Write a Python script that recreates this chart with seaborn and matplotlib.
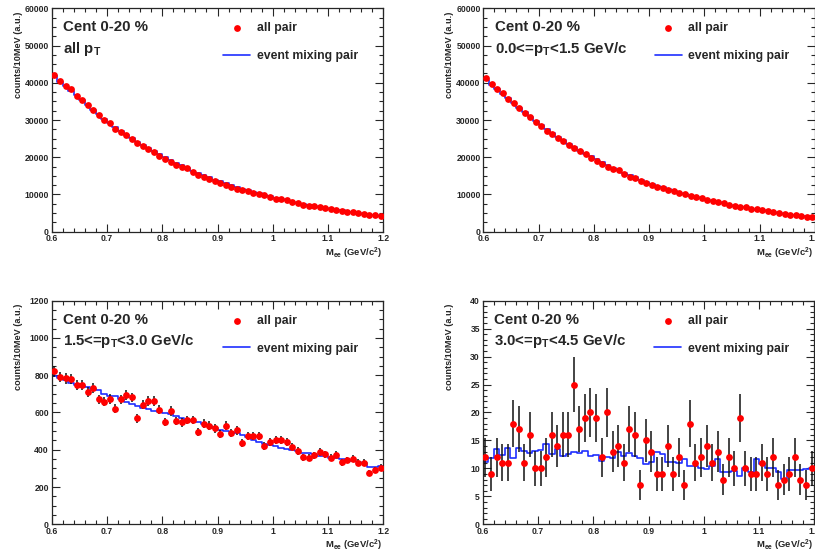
import numpy as np
import pandas as pd
import matplotlib
matplotlib.use("Agg")
import matplotlib.pyplot as plt
from matplotlib.ticker import MultipleLocator, FuncFormatter
import seaborn as sns

# ---- binning: 10 MeV bins between 0.6 and 1.2 GeV/c^2 ----
mass_lo, mass_hi, n_bins = 0.6, 1.2, 60

# ---- Cent 0-20 %, all pT ----
allpt_pairs = [42000, 40500, 39000, 38200, 36500, 35400, 34000, 32700, 31400, 30000,
               29200, 27500, 26800, 25900, 25000, 23900, 23000, 22300, 21300, 20300,
               19400, 18800, 18000, 17400, 17200, 15900, 15300, 14700, 14200, 13600,
               13000, 12600, 12100, 11600, 11100, 10800, 10400, 10100, 9800, 9300,
               8900, 8700, 8400, 7900, 7700, 7300, 7000, 6800, 6600, 6400,
               6000, 5800, 5600, 5400, 5200, 5000, 4800, 4600, 4400, 4200]
allpt_mix = [41700, 40300, 39100, 37900, 36600, 35300, 34000, 32800, 31600, 30300,
             29200, 28100, 27100, 26100, 25100, 24200, 23300, 22400, 21600, 20800,
             20000, 19200, 18500, 17800, 17100, 16400, 15800, 15200, 14600, 14000,
             13500, 13000, 12500, 12000, 11500, 11100, 10700, 10300, 9900, 9500,
             9100, 8800, 8400, 8100, 7800, 7500, 7200, 6900, 6600, 6400,
             6100, 5900, 5700, 5400, 5200, 5000, 4800, 4600, 4400, 4250]

# ---- 0.0 <= pT < 1.5 GeV/c ----
lowpt_pairs = [41200, 39700, 38300, 37300, 35700, 34600, 33200, 32000, 30700, 29400,
               28500, 27000, 26200, 25200, 24300, 23300, 22400, 21600, 20800, 19900,
               19000, 18300, 17500, 16900, 16500, 15500, 14800, 14300, 13700, 13200,
               12600, 12100, 11700, 11200, 10800, 10400, 10000, 9600, 9300, 9000,
               8600, 8300, 8000, 7600, 7300, 7000, 6700, 6500, 6200, 6000,
               5700, 5500, 5200, 5000, 4800, 4600, 4400, 4200, 4000, 3900]
lowpt_mix = [40800, 39500, 38200, 37000, 35800, 34500, 33300, 32100, 30900, 29700,
             28600, 27500, 26500, 25500, 24500, 23600, 22700, 21800, 21000, 20200,
             19400, 18600, 17900, 17200, 16500, 15800, 15200, 14600, 14000, 13400,
             12900, 12400, 11900, 11400, 11000, 10500, 10100, 9700, 9300, 9000,
             8600, 8300, 7900, 7600, 7300, 7000, 6700, 6500, 6200, 5900,
             5700, 5500, 5200, 5000, 4800, 4600, 4400, 4250, 4100, 3950]

# ---- 1.5 <= pT < 3.0 GeV/c ----
midpt_pairs = [821, 790, 783, 780, 748, 748, 710, 733, 670, 658,
               672, 620, 670, 692, 681, 569, 642, 663, 663, 615,
               549, 608, 554, 547, 560, 560, 494, 540, 529, 515,
               486, 529, 488, 504, 435, 476, 472, 472, 420, 440,
               451, 451, 440, 417, 393, 359, 358, 370, 388, 376,
               358, 374, 333, 345, 352, 331, 331, 274, 291, 304]
midpt_mix = [796, 783, 772, 758, 748, 742, 735, 728, 720, 700,
             690, 688, 672, 655, 645, 635, 625, 618, 608, 602,
             595, 590, 582, 572, 560, 552, 548, 540, 528, 515,
             508, 502, 494, 488, 478, 466, 450, 440, 432, 425,
             418, 412, 406, 400, 394, 385, 382, 378, 368, 366,
             358, 354, 350, 346, 340, 336, 330, 308, 310, 312]

# ---- 3.0 <= pT < 4.5 GeV/c ----
highpt_pairs = [12, 9, 12, 11, 11, 18, 17, 11, 16, 10,
                10, 12, 16, 14, 16, 16, 25, 17, 19, 20,
                19, 12, 20, 13, 14, 11, 17, 16, 7, 15,
                13, 9, 9, 14, 9, 12, 7, 18, 11, 12,
                14, 11, 13, 8, 12, 10, 19, 10, 9, 9,
                11, 9, 12, 7, 8, 9, 12, 8, 7, 10]
highpt_mix = [11.2, 11.8, 13.4, 12.4, 13.7, 11.9, 13.6, 13.1, 12.8, 13.1,
              13.3, 14.3, 12.6, 13.4, 12.2, 12.6, 13.0, 12.8, 13.1, 12.2,
              12.4, 11.4, 12.0, 11.9, 12.9, 12.2, 12.8, 12.2, 11.8, 10.8,
              11.1, 12.9, 12.5, 11.1, 11.1, 10.9, 11.6, 10.4, 10.4, 10.1,
              9.9, 10.4, 11.6, 9.4, 9.4, 9.6, 8.7, 10.1, 9.4, 11.6,
              10.8, 10.1, 10.1, 9.3, 8.1, 9.8, 9.8, 9.8, 9.9, 10.0]

panel_texts = ["all p$_{T}$", "0.0<=p$_{T}$<1.5 GeV/c",
               "1.5<=p$_{T}$<3.0 GeV/c", "3.0<=p$_{T}$<4.5 GeV/c"]
centrality = "Cent 0-20 %"
legend_labels = ["all pair", "event mixing pair"]
y_label = "counts/10MeV (a.u.)"
x_label = "M$_{ee}$ (GeV/c$^{2}$)"

# ---- style ----
sns.set_style("ticks")
plt.rcParams["font.family"] = ["Liberation Sans", "DejaVu Sans"]
plt.rcParams["font.weight"] = "bold"
plt.rcParams["mathtext.fontset"] = "custom"
plt.rcParams["mathtext.rm"] = "Liberation Sans:bold"
plt.rcParams["mathtext.it"] = "Liberation Sans:bold"
plt.rcParams["mathtext.bf"] = "Liberation Sans:bold"
plt.rcParams["axes.linewidth"] = 0.9

RED = "#ff0000"
BLUE = "#1f2fff"

bin_w = (mass_hi - mass_lo) / n_bins
centers = mass_lo + bin_w * (np.arange(n_bins) + 0.5)

fig = plt.figure(figsize=(8.15, 5.57), dpi=100)
W, H = 815.0, 557.0
ax_w = 331.6
panels = [
    (51.7, 8.3, 223.4, allpt_pairs, allpt_mix, 60000, 10000, 2500),
    (483.3, 8.3, 223.4, lowpt_pairs, lowpt_mix, 60000, 10000, 2500),
    (51.7, 300.7, 223.6, midpt_pairs, midpt_mix, 1200, 200, 50),
    (482.7, 300.7, 223.6, highpt_pairs, highpt_mix, 40, 5, 1),
]

for i, (left, top, h, pairs, mix, ymax, ymaj, ymin) in enumerate(panels):
    ax = fig.add_axes([left / W, 1 - (top + h) / H, ax_w / W, h / H])
    df = pd.DataFrame({"mass": centers, "pairs": pairs, "mix": mix})

    # event-mixing histogram as a step outline
    sns.histplot(data=df, x="mass", weights="mix", bins=n_bins,
                 binrange=(mass_lo, mass_hi), element="step",
                 fill=False, color=BLUE, linewidth=1.2, ax=ax, zorder=2)
    mix_line = ax.lines[-1] if ax.lines else None

    # all pairs with Poisson errors
    ax.errorbar(df["mass"], df["pairs"], yerr=np.sqrt(df["pairs"]), fmt="none",
                ecolor="#111111", elinewidth=1.1, capsize=0, zorder=3)
    sns.scatterplot(data=df, x="mass", y="pairs", color=RED, s=24,
                    linewidth=0, ax=ax, zorder=4)
    pts = ax.collections[-1]

    ax.set_xlim(mass_lo, mass_hi)
    ax.set_ylim(0, ymax)
    ax.xaxis.set_major_locator(MultipleLocator(0.1))
    ax.xaxis.set_minor_locator(MultipleLocator(0.02))
    ax.yaxis.set_major_locator(MultipleLocator(ymaj))
    ax.yaxis.set_minor_locator(MultipleLocator(ymin))
    ax.xaxis.set_major_formatter(FuncFormatter(lambda v, p: f"{v:g}"))
    ax.yaxis.set_major_formatter(FuncFormatter(lambda v, p: f"{v:g}"))
    ax.tick_params(which="both", direction="in", top=True, right=True,
                   labelsize=6.2, width=0.8, pad=2)
    ax.tick_params(which="major", length=5.6)
    ax.tick_params(which="minor", length=2.8)
    for lab in ax.get_xticklabels() + ax.get_yticklabels():
        lab.set_fontweight("bold")

    ax.set_ylabel(y_label, fontsize=6.6, fontweight="bold", loc="top")
    ax.yaxis.set_label_coords(-0.088, 0.985)
    ax.set_xlabel(x_label, fontsize=6.8, fontweight="bold", loc="right")
    ax.xaxis.set_label_coords(0.995, -0.062)

    ax.text(0.035, 0.897, centrality, transform=ax.transAxes, fontsize=10.8,
            fontweight="bold", ha="left", va="baseline")
    ax.text(0.035, 0.800, panel_texts[i], transform=ax.transAxes, fontsize=10.8,
            fontweight="bold", ha="left", va="baseline")

    handles = [pts, mix_line] if mix_line is not None else [pts]
    leg = ax.legend(handles=handles, labels=legend_labels[:len(handles)],
                    loc="upper left", bbox_to_anchor=(0.517, 0.937),
                    frameon=False, fontsize=8.8, borderpad=0, borderaxespad=0,
                    handlelength=2.2, handletextpad=0.55, labelspacing=1.3,
                    scatterpoints=1)
    for t in leg.get_texts():
        t.set_fontweight("bold")

fig.savefig("out.png", dpi=100)
